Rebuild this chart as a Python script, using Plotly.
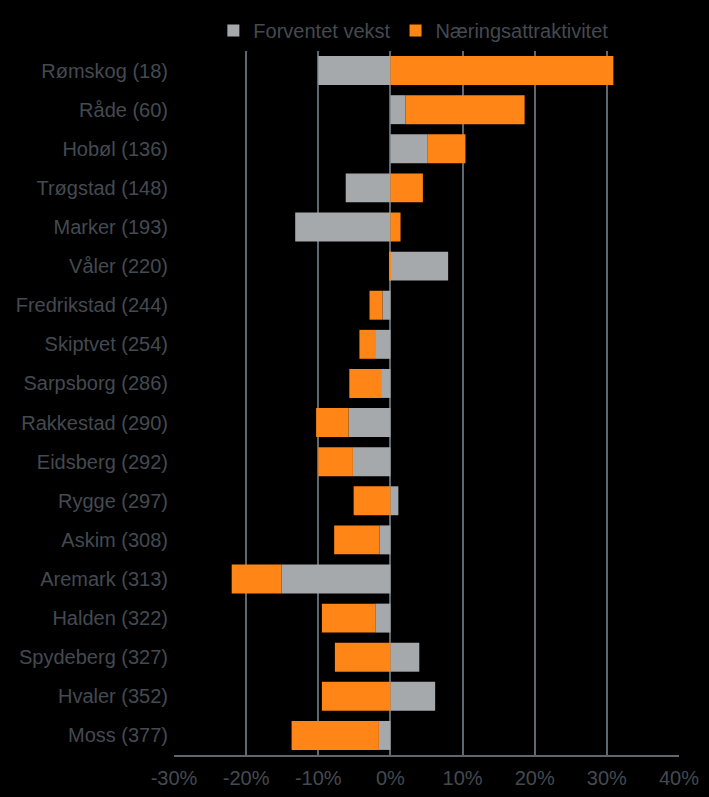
import plotly.graph_objects as go

kommuner = ["Rømskog (18)", "Råde (60)", "Hobøl (136)", "Trøgstad (148)", "Marker (193)",
            "Våler (220)", "Fredrikstad (244)", "Skiptvet (254)", "Sarpsborg (286)",
            "Rakkestad (290)", "Eidsberg (292)", "Rygge (297)", "Askim (308)",
            "Aremark (313)", "Halden (322)", "Spydeberg (327)", "Hvaler (352)", "Moss (377)"]

forventet_vekst = [-0.100, 0.021, 0.051, -0.062, -0.132, 0.080, -0.011, -0.020, -0.013,
                   -0.058, -0.052, 0.011, -0.015, -0.151, -0.021, 0.040, 0.062, -0.016]

naeringsattraktivitet = [0.309, 0.165, 0.053, 0.045, 0.014, -0.002, -0.018, -0.023, -0.044,
                         -0.045, -0.048, -0.051, -0.063, -0.069, -0.074, -0.077, -0.095, -0.121]

tick_vals = [-0.3, -0.2, -0.1, 0.0, 0.1, 0.2, 0.3, 0.4]
tick_text = ["-30%", "-20%", "-10%", "0%", "10%", "20%", "30%", "40%"]

text_col = "#444a51"
grid_col = "#5d6870"

fig = go.Figure()
fig.add_trace(go.Bar(y=kommuner, x=forventet_vekst, orientation="h",
                     name="Forventet vekst", marker=dict(color="#A6A9AC", line=dict(width=0))))
fig.add_trace(go.Bar(y=kommuner, x=naeringsattraktivitet, orientation="h",
                     name="Næringsattraktivitet", marker=dict(color="#FF8517", line=dict(width=0))))

fig.update_layout(
    template="none",
    width=709, height=797,
    paper_bgcolor="black", plot_bgcolor="black",
    barmode="relative", bargap=0.26,
    margin=dict(l=174, r=30, t=50, b=42),
    font=dict(family="Liberation Sans, Arial, sans-serif", size=20, color=text_col),
    showlegend=True,
    legend=dict(orientation="h", x=0.474, xanchor="center", y=1.0, yanchor="bottom",
                font=dict(size=20, color=text_col), traceorder="normal",
                bgcolor="rgba(0,0,0,0)"),
    xaxis=dict(range=[-0.3, 0.4], tickvals=tick_vals, ticktext=tick_text,
               showgrid=True, gridcolor=grid_col, gridwidth=1.5,
               zeroline=False, showline=True, linecolor=grid_col, linewidth=1.5,
               ticks="", ticklen=0, automargin=False, ticklabelstandoff=4,
               tickfont=dict(size=20, color=text_col)),
    yaxis=dict(autorange="reversed", showgrid=False, zeroline=False,
               showline=False, ticks="", automargin=False, ticklabelstandoff=5,
               tickfont=dict(size=20, color=text_col)),
)

fig.write_html("out.html", config={"displayModeBar": False})

with open("out.html", "r", encoding="utf-8") as f:
    html = f.read()
html = html.replace("<body>", '<body style="margin:0;padding:0;background:black;">', 1)
with open("out.html", "w", encoding="utf-8") as f:
    f.write(html)
